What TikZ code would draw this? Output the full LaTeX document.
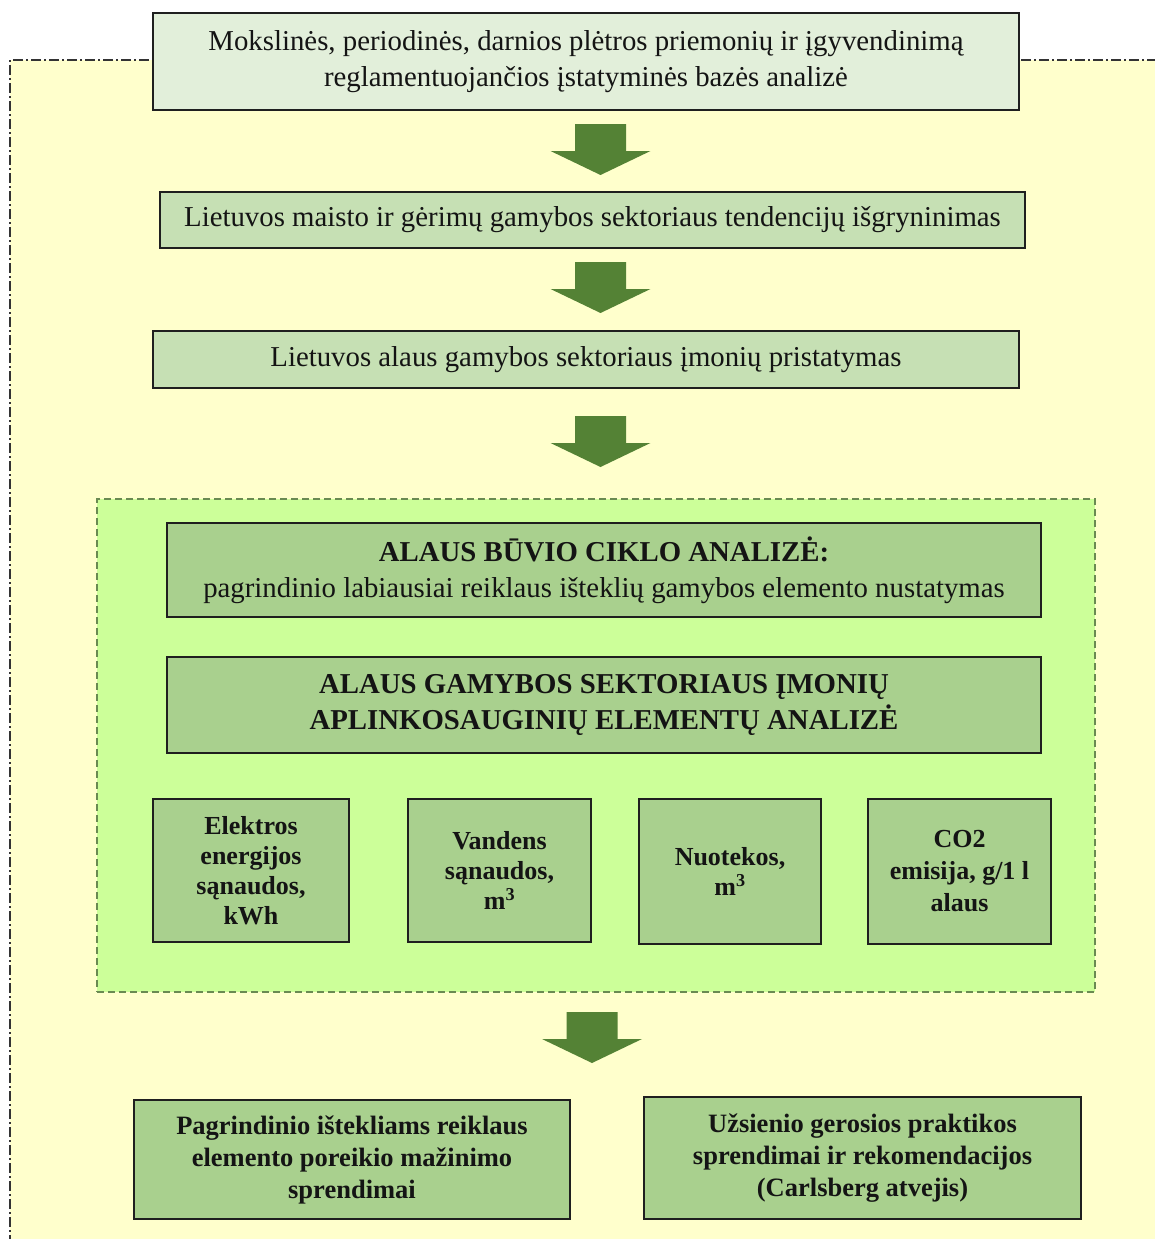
\documentclass[tikz,border=0pt]{standalone}
\usepackage{fontspec}
\setmainfont{Liberation Serif}
\definecolor{bgyellow}{HTML}{FFFFCC}
\definecolor{boxpale}{HTML}{E2EFDA}
\definecolor{boxmid}{HTML}{C6E0B4}
\definecolor{boxdark}{HTML}{A9D08E}
\definecolor{regionfill}{HTML}{CCFF99}
\definecolor{arrowgreen}{HTML}{548235}
\definecolor{dashgreen}{HTML}{6A8A52}
\definecolor{txt}{HTML}{141414}
\begin{document}
\begin{tikzpicture}[x=1pt,y=-1pt,
  every node/.style={text=txt, align=center, inner sep=0pt},
  boxbase/.style={draw=black!88, line width=1.8pt},
  palebox/.style={boxbase, fill=boxpale},
  midbox/.style={boxbase, fill=boxmid},
  darkbox/.style={boxbase, fill=boxdark},
  regtext/.style={font=\fontsize{28.8}{36}\selectfont},
  boldtext/.style={font=\fontsize{26}{30}\bfseries\selectfont},
  bottomtext/.style={font=\fontsize{26.5}{32}\bfseries\selectfont},
  pics/bigarrow/.style={code={
    \fill[arrowgreen] (-25.5,0) -- (25.5,0) -- (25.5,27) -- (50,27) -- (0,51)
      -- (-50,27) -- (-25.5,27) -- cycle;}}
]
\useasboundingbox (0,0) rectangle (1154,1239);
% outer yellow frame
\fill[bgyellow] (10,60) rectangle (1160,1245);
\draw[black!80, line width=1.3pt, dash pattern=on 10pt off 3pt on 2pt off 3pt]
  (10,1245) -- (10,60) -- (1160,60);
% green dashed region
\node[fill=regionfill, draw=dashgreen, line width=1.2pt, dash pattern=on 7pt off 4pt,
  minimum width=998pt, minimum height=493pt] (region) at (596,745.5) {};
% boxes
\node[palebox, regtext, minimum width=866pt, minimum height=97pt] (b1) at (586,61.5)
  {Mokslinės, periodinės, darnios plėtros priemonių ir įgyvendinimą\\reglamentuojančios įstatyminės bazės analizė};
\node[midbox, regtext, minimum width=865pt, minimum height=56pt] (b2) at (592.5,220)
  {Lietuvos maisto ir gėrimų gamybos sektoriaus tendencijų išgryninimas};
\node[midbox, regtext, minimum width=866pt, minimum height=57pt] (b3) at (586,359.5)
  {Lietuvos alaus gamybos sektoriaus įmonių pristatymas};
\node[darkbox, regtext, minimum width=874pt, minimum height=94pt] (b4) at (604,570)
  {{\bfseries ALAUS BŪVIO CIKLO ANALIZĖ:}\\pagrindinio labiausiai reiklaus išteklių gamybos elemento nustatymas};
\node[darkbox, regtext, minimum width=874pt, minimum height=96pt] (b5) at (604,705)
  {\bfseries ALAUS GAMYBOS SEKTORIAUS ĮMONIŲ\\\bfseries APLINKOSAUGINIŲ ELEMENTŲ ANALIZĖ};
\node[darkbox, boldtext, minimum width=196pt, minimum height=143pt] (s1) at (251,870.5)
  {Elektros\\energijos\\sąnaudos,\\kWh};
\node[darkbox, boldtext, minimum width=183pt, minimum height=143pt] (s2) at (499.5,870.5)
  {Vandens\\sąnaudos,\\m\textsuperscript{3}};
\node[darkbox, boldtext, minimum width=182pt, minimum height=145pt] (s3) at (730,871.5)
  {Nuotekos,\\m\textsuperscript{3}};
\node[darkbox, boldtext, font=\fontsize{26}{32}\bfseries\selectfont, minimum width=183pt, minimum height=145pt] (s4) at (959.5,871.5)
  {CO2\\emisija, g/1 l\\alaus};
\node[darkbox, bottomtext, minimum width=436pt, minimum height=119pt] (b6) at (352,1159.5)
  {Pagrindinio ištekliams reiklaus\\elemento poreikio mažinimo\\sprendimai};
\node[darkbox, bottomtext, minimum width=437pt, minimum height=122pt] (b7) at (862.5,1158)
  {Užsienio gerosios praktikos\\sprendimai ir rekomendacijos\\(Carlsberg atvejis)};
% block arrows
\pic at (600.5,124) {bigarrow};
\pic at (600.5,262) {bigarrow};
\pic at (600.5,416) {bigarrow};
\pic at (592,1012) {bigarrow};
\end{tikzpicture}
\end{document}
